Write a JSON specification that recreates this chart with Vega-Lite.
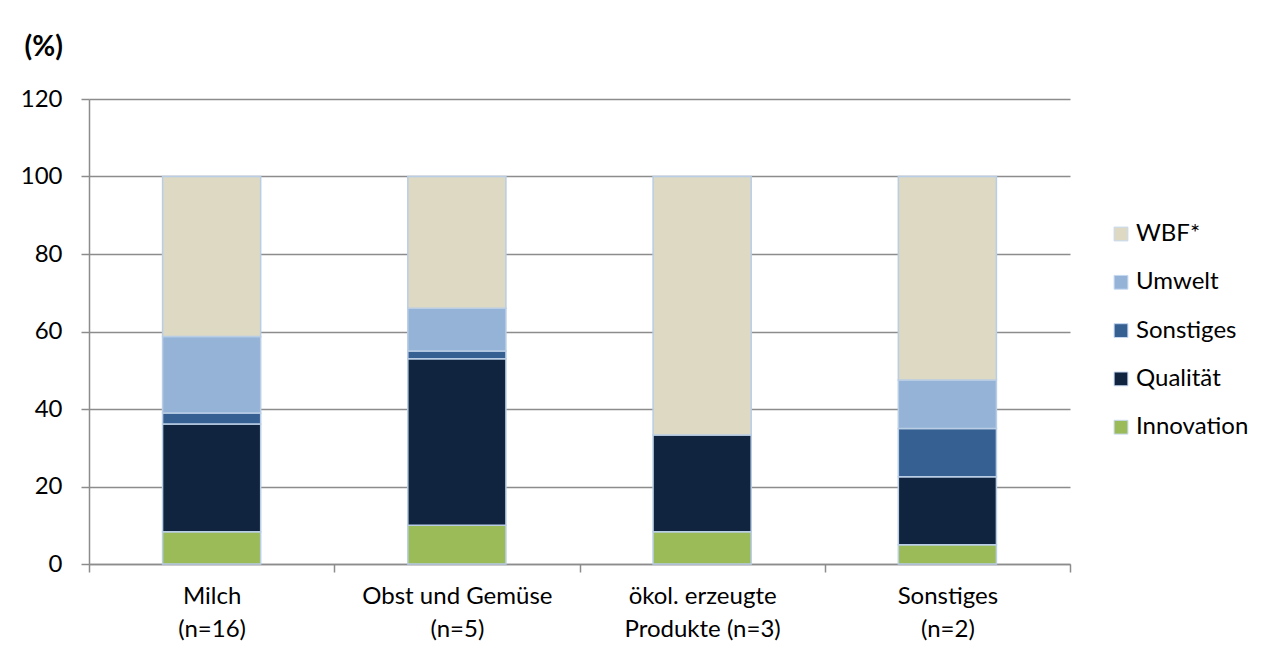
{
  "$schema": "https://vega.github.io/schema/vega-lite/v6.json",
  "width": 981,
  "height": 465,
  "autosize": {"type": "none"},
  "padding": {"left": 89, "top": 99, "right": 205, "bottom": 85},
  "background": "white",
  "config": {
    "font": "Lato",
    "view": {"stroke": null},
    "axis": {"labelFont": "Lato", "titleFont": "Lato", "labelColor": "#000000", "titleColor": "#000000"}
  },
  "data": {
    "values": [
      {"Kategorie": "Milch\n(n=16)", "Bereich": "Innovation", "Anteil": 8.3},
      {"Kategorie": "Milch\n(n=16)", "Bereich": "Qualität", "Anteil": 27.8},
      {"Kategorie": "Milch\n(n=16)", "Bereich": "Sonstiges", "Anteil": 2.9},
      {"Kategorie": "Milch\n(n=16)", "Bereich": "Umwelt", "Anteil": 19.7},
      {"Kategorie": "Milch\n(n=16)", "Bereich": "WBF*", "Anteil": 41.3},
      {"Kategorie": "Obst und Gemüse\n(n=5)", "Bereich": "Innovation", "Anteil": 10},
      {"Kategorie": "Obst und Gemüse\n(n=5)", "Bereich": "Qualität", "Anteil": 43},
      {"Kategorie": "Obst und Gemüse\n(n=5)", "Bereich": "Sonstiges", "Anteil": 2},
      {"Kategorie": "Obst und Gemüse\n(n=5)", "Bereich": "Umwelt", "Anteil": 11},
      {"Kategorie": "Obst und Gemüse\n(n=5)", "Bereich": "WBF*", "Anteil": 34},
      {"Kategorie": "ökol. erzeugte\nProdukte (n=3)", "Bereich": "Innovation", "Anteil": 8.3},
      {"Kategorie": "ökol. erzeugte\nProdukte (n=3)", "Bereich": "Qualität", "Anteil": 25},
      {"Kategorie": "ökol. erzeugte\nProdukte (n=3)", "Bereich": "WBF*", "Anteil": 66.7},
      {"Kategorie": "Sonstiges\n(n=2)", "Bereich": "Innovation", "Anteil": 5},
      {"Kategorie": "Sonstiges\n(n=2)", "Bereich": "Qualität", "Anteil": 17.5},
      {"Kategorie": "Sonstiges\n(n=2)", "Bereich": "Sonstiges", "Anteil": 12.5},
      {"Kategorie": "Sonstiges\n(n=2)", "Bereich": "Umwelt", "Anteil": 12.5},
      {"Kategorie": "Sonstiges\n(n=2)", "Bereich": "WBF*", "Anteil": 52.5}
    ]
  },
  "transform": [
    {"calculate": "indexof(['Innovation','Qualität','Sonstiges','Umwelt','WBF*'], datum.Bereich)", "as": "stackOrder"}
  ],
  "mark": {"type": "bar", "stroke": "#b9cde5", "strokeWidth": 1.5, "width": {"band": 0.4}},
  "encoding": {
    "x": {
      "field": "Kategorie",
      "type": "nominal",
      "sort": null,
      "scale": {"paddingInner": 0, "paddingOuter": 0},
      "axis": {
        "title": null,
        "labelAngle": 0,
        "labelExpr": "isValid(datum.value) ? split(datum.value, '\\n') : ''",
        "labelFontSize": 24,
        "labelLineHeight": 33,
        "labelPadding": 12,
        "labelBaseline": "top",
        "labelLimit": 0,
        "tickBand": "extent",
        "tickSize": 8,
        "tickColor": "#8c8c8c",
        "tickWidth": 1.5,
        "domainColor": "#8c8c8c",
        "domainWidth": 1.5,
        "grid": false
      }
    },
    "y": {
      "field": "Anteil",
      "type": "quantitative",
      "stack": "zero",
      "scale": {"domain": [0, 120], "nice": false},
      "axis": {
        "values": [0, 20, 40, 60, 80, 100, 120],
        "title": "(%)",
        "titleAngle": 0,
        "titleFontSize": 28,
        "titleFontWeight": "bold",
        "titleAlign": "left",
        "titleBaseline": "middle",
        "titleX": -65,
        "titleY": -52,
        "labelFontSize": 24,
        "labelPadding": 19,
        "tickSize": 8,
        "tickColor": "#8c8c8c",
        "tickWidth": 1.5,
        "domainColor": "#8c8c8c",
        "domainWidth": 1.5,
        "grid": true,
        "gridColor": "#8c8c8c",
        "gridWidth": 1.5
      }
    },
    "color": {
      "field": "Bereich",
      "type": "nominal",
      "scale": {
        "domain": ["WBF*", "Umwelt", "Sonstiges", "Qualität", "Innovation"],
        "range": ["#ddd9c3", "#95b3d7", "#376092", "#10243f", "#9bbb59"]
      },
      "legend": {
        "title": null,
        "orient": "none",
        "legendX": 1020,
        "legendY": 123,
        "padding": 0,
        "symbolType": "square",
        "symbolSize": 190,
        "symbolStrokeColor": "#c6d9f1",
        "symbolStrokeWidth": 1,
        "labelFontSize": 24,
        "labelFont": "Lato",
        "labelColor": "#000000",
        "labelOffset": 3,
        "rowPadding": 24.3
      }
    },
    "order": {"field": "stackOrder", "type": "quantitative", "sort": "ascending"}
  }
}
